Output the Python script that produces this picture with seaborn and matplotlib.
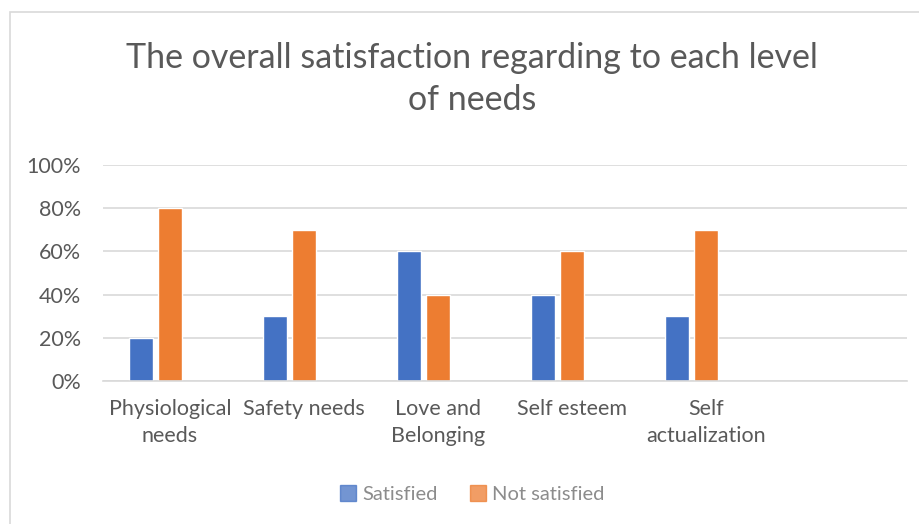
import matplotlib
matplotlib.use("Agg")
import matplotlib.pyplot as plt
import seaborn as sns
import pandas as pd
import numpy as np
from matplotlib.patches import Rectangle

categories = ["Physiological\nneeds", "Safety needs", "Love and\nBelonging", "Self esteem", "Self\nactualization", ""]
satisfied = [20, 30, 60, 40, 30, np.nan]
not_satisfied = [80, 70, 40, 60, 70, np.nan]
hidden = [np.nan] * 6
series_names = ["Satisfied", "Not satisfied", "Hidden"]
yticks = [0, 20, 40, 60, 80, 100]
ytick_labels = ["0%", "20%", "40%", "60%", "80%", "100%"]
title = "The overall satisfaction regarding to each level\nof needs"

sns.set_theme(style="white")
plt.rcParams['font.family'] = ['Lato', 'DejaVu Sans']

rows = []
for vals, name in zip([satisfied, not_satisfied, hidden], series_names):
    for c, v in zip(categories, vals):
        rows.append({"cat": c, "series": name, "value": v})
df = pd.DataFrame(rows)

fig = plt.figure(figsize=(9.2, 5.24), dpi=100)
ax = fig.add_axes([103/920, 1-381/524, (907-103)/920, (381-165)/524])
palette = {"Satisfied": "#4472C4", "Not satisfied": "#ED7D31", "Hidden": "#FFFFFF"}
sns.barplot(data=df, x="cat", y="value", hue="series", order=categories,
            hue_order=series_names, palette=palette, width=0.65, gap=0.2,
            ax=ax, legend=False, errorbar=None, saturation=1)

ax.set_ylim(0, 100)
ax.set_xlim(-0.5, 5.5)
ax.set_yticks(yticks)
ax.set_yticklabels(ytick_labels)
ax.yaxis.grid(True, color="#D9D9D9", linewidth=1.2)
ax.set_axisbelow(True)
for s in ["top", "right", "left"]:
    ax.spines[s].set_visible(False)
ax.spines["bottom"].set_color("#D9D9D9")
ax.spines["bottom"].set_linewidth(1.2)
ax.tick_params(axis="both", length=0, labelsize=15.5, labelcolor="#595959")
ax.tick_params(axis="y", pad=16)
ax.tick_params(axis="x", pad=13)
for lbl in ax.get_xticklabels():
    lbl.set_linespacing(1.45)
ax.set_xlabel("")
ax.set_ylabel("")

fig.text(472/920, 1-79/524, title, ha="center", va="center", fontsize=24.5,
         color="#595959", linespacing=1.35)

handles = [Rectangle((0, 0), 1, 1, color="#4472C4", alpha=0.75),
           Rectangle((0, 0), 1, 1, color="#ED7D31", alpha=0.75)]
leg = fig.legend(handles, ["Satisfied", "Not satisfied"], loc="center",
                 bbox_to_anchor=(472/920, 1-494/524), ncol=2, frameon=False,
                 fontsize=14.5, handlelength=0.8, handleheight=0.8,
                 handletextpad=0.3, columnspacing=1.6)
for t in leg.get_texts():
    t.set_color("#8C8C8C")

fig.patches.append(Rectangle((10/920, -0.02), 1.1, 1 - (-0.02) - 12/524,
                             transform=fig.transFigure, fill=False,
                             edgecolor="#D9D9D9", linewidth=1.2))
fig.savefig("out.png", dpi=100, facecolor="white")
